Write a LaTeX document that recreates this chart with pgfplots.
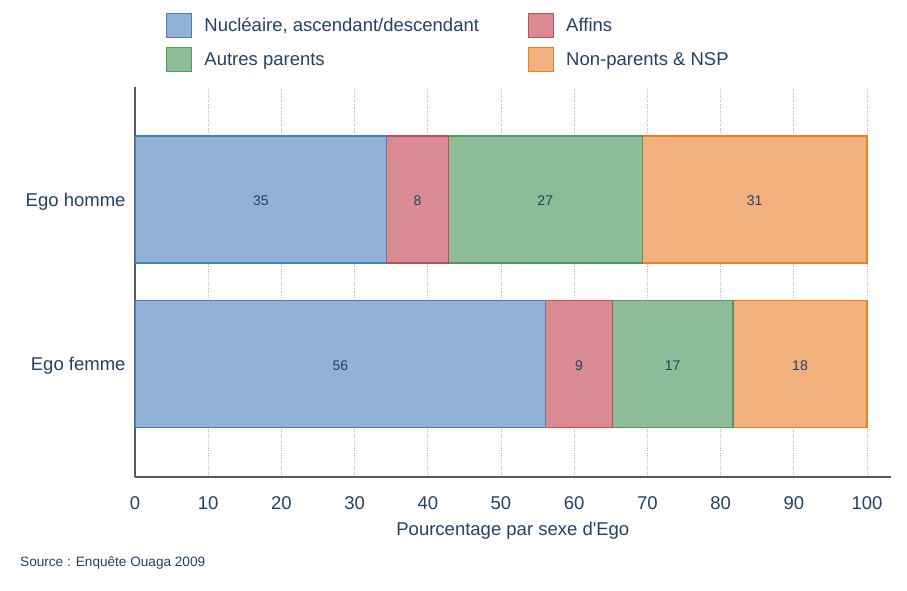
\documentclass[border=0pt]{standalone}
\usepackage{pgfplots}
\usepackage{pgfplotstable}
\pgfplotsset{compat=1.18}
\usepackage{fontspec}
\setmainfont{Liberation Sans}
\newfontfamily\nolig{Liberation Sans}
\definecolor{txt}{RGB}{35,66,104}
\definecolor{axgray}{RGB}{90,90,90}
\definecolor{gridc}{RGB}{185,185,185}
\definecolor{bfill}{RGB}{146,177,214}
\definecolor{bdraw}{RGB}{74,126,187}
\definecolor{rfill}{RGB}{217,138,147}
\definecolor{rdraw}{RGB}{192,80,77}
\definecolor{gfill}{RGB}{142,187,152}
\definecolor{gdraw}{RGB}{80,155,95}
\definecolor{ofill}{RGB}{242,176,126}
\definecolor{odraw}{RGB}{240,127,34}
\newcommand{\bigf}{\fontsize{18.5bp}{22bp}\selectfont}
\newcommand{\smallf}{\fontsize{14bp}{17bp}\selectfont}
\pgfplotstableread{
y nuc aff aut non
1 34.4 8.4 26.5 30.7
0 56.1 9.1 16.5 18.3
}\data
\pgfplotstableread{
x y lab
17.2 1 35
38.6 1 8
56.05 1 27
84.65 1 31
28.05 0 56
60.65 0 9
73.45 0 17
90.85 0 18
}\labels
\pgfplotsset{
  common/.style={
    scale only axis, width=755.7bp, height=389.5bp,
    at={(0,0)}, anchor=south west,
    xmin=0, xmax=103.24, ymin=-0.687, ymax=1.681,
  },
  leg/.style={legend image code/.code={\draw[##1, line width=1.2bp] (0bp,-12bp) rectangle (25bp,12bp);}},
}
\begin{document}
\begin{tikzpicture}
\useasboundingbox (-135bp,-114bp) rectangle (772bp,477bp);
\begin{axis}[
  common,
  xbar stacked,
  bar width=127bp,
  axis x line*=bottom, axis y line*=left,
  axis line style={draw=axgray, line width=1.4bp},
  major tick length=0pt,
  xtick={0,10,...,100},
  ytick={0,1},
  yticklabels={Ego femme, Ego homme},
  xmajorgrids,
  major grid style={gridc, dotted, line width=0.9bp},
  /pgf/number format/assume math mode=true,
  ticklabel style={font=\bigf, text=txt},
  xticklabel style={yshift=-16bp},
  yticklabel style={xshift=-6bp, yshift=-2bp},
  xlabel={Pourcentage par sexe d{\nolig'}Ego},
  xlabel style={font=\bigf, text=txt, yshift=-6bp},
  legend columns=2,
  legend cell align=left,
  legend style={at={(0.04106,1.1913)}, anchor=north west, draw=none, fill=none,
    inner xsep=0pt, inner ysep=0pt, row sep=8.5bp,
    nodes={inner sep=0pt, anchor=west, font=\bigf, text=txt},
    /tikz/every odd column/.append style={column sep=12bp},
    /tikz/every even column/.append style={column sep=49bp}},
]
\addplot[fill=bfill, draw=bdraw, line width=1.3bp, leg] table[x=nuc, y=y] {\data};
\addplot[fill=rfill, draw=rdraw, line width=1.3bp, leg] table[x=aff, y=y] {\data};
\addplot[fill=gfill, draw=gdraw, line width=1.3bp, leg] table[x=aut, y=y] {\data};
\addplot[fill=ofill, draw=odraw, line width=1.3bp, leg] table[x=non, y=y] {\data};
\legend{{Nucléaire, ascendant/descendant}, Affins, Autres parents, Non-parents \& NSP}
\end{axis}
\begin{axis}[
  common,
  hide axis,
]
\addplot[only marks, mark=none, nodes near coords, point meta=explicit symbolic,
  nodes near coords style={anchor=center, font=\smallf, text=txt, yshift=-1.5bp}]
  table[x=x, y=y, meta=lab] {\labels};
\end{axis}
\node[anchor=west, font=\fontsize{13.6bp}{16bp}\selectfont, text=txt, inner sep=0pt] at (-115bp,-85.7bp) {Source : Enquête Ouaga 2009};
\end{tikzpicture}
\end{document}
